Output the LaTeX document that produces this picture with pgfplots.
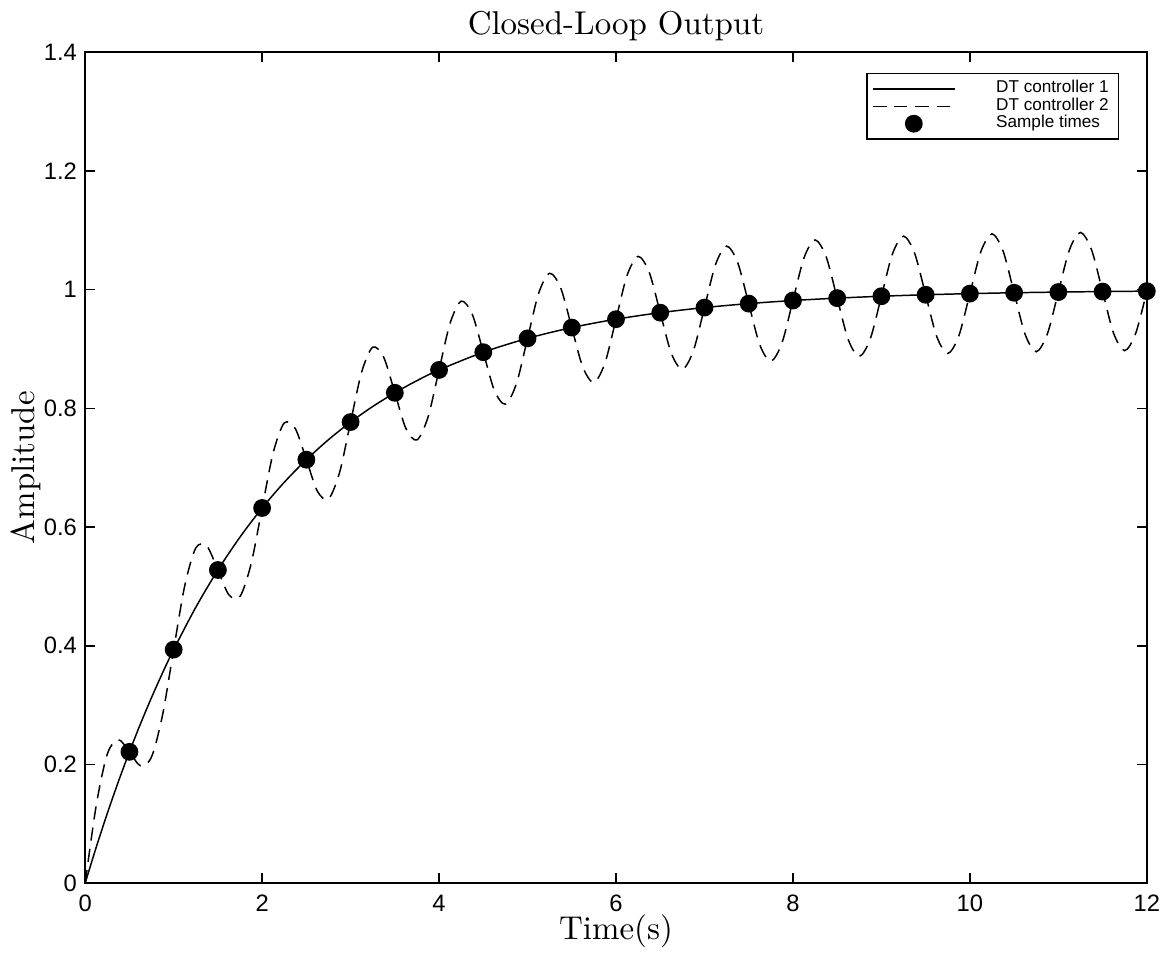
\documentclass[border=0pt]{standalone}
\usepackage{fontspec}
\usepackage{pgfplots}
\pgfplotsset{compat=1.18}
\newfontfamily\helv{Liberation Sans}

\begin{document}
\begin{tikzpicture}
\begin{axis}[
    scale only axis,
    width=322pt, height=252pt,
    xmin=0, xmax=12, ymin=0, ymax=1.4,
    xtick={0,2,...,12},
    ytick={0,0.2,...,1.4},
    yticklabels={0,0.2,0.4,0.6,0.8,1,1.2,1.4},
    tick align=inside,
    major tick length=3pt,
    tick style={black, line width=0.5pt},
    axis line style={line width=0.6pt},
    /pgf/number format/assume math mode=true,
    tick label style={font=\helv\fontsize{7.2}{8}\selectfont},
    yticklabel style={xshift=1pt},
    title={Closed-Loop Output},
    title style={font=\fontsize{10}{11}\selectfont, yshift=-6pt},
    xlabel={Time(s)},
    ylabel={Amplitude},
    label style={font=\fontsize{10}{12}\selectfont},
    xlabel style={yshift=6pt},
    ylabel style={yshift=-6pt},
    legend style={at={(0.974,0.975)}, anchor=north east,
        font=\helv\fontsize{5.2}{5.2}\selectfont,
        draw=black, line width=0.4pt, inner xsep=1.5pt, inner ysep=0.5pt,
        row sep=-3pt, nodes={inner sep=1.5pt}},
    legend cell align=left,
    legend image code/.code={\draw[mark repeat=2,mark phase=2,#1]
        plot coordinates {(0pt,0pt) (12.5pt,0pt) (25pt,0pt)};
        \path[draw=none, fill=none] (0pt,0pt) -- (36pt,0pt);},
]
% DT controller 1
\addplot[black, line width=0.45pt, smooth] coordinates {
(0,0) (0.125,0.0606) (0.25,0.1175) (0.375,0.1710) (0.5,0.2212) (0.625,0.2684)
(0.75,0.3127) (0.875,0.3544) (1,0.3935) (1.25,0.4647) (1.5,0.5276) (1.75,0.5831)
(2,0.6321) (2.25,0.6754) (2.5,0.7135) (2.75,0.7472) (3,0.7769) (3.25,0.8031)
(3.5,0.8262) (3.75,0.8467) (4,0.8647) (4.5,0.8946) (5,0.9179) (5.5,0.9361)
(6,0.9502) (6.5,0.9612) (7,0.9698) (7.5,0.9765) (8,0.9817) (8.5,0.9857)
(9,0.9889) (9.5,0.9914) (10,0.9933) (10.5,0.9948) (11,0.9959) (11.5,0.9968)
(12,0.9975)
};
% DT controller 2
\addplot[black, line width=0.45pt, dash pattern=on 4pt off 2.5pt, smooth] coordinates {
(0,0) (0.125,0.1313) (0.25,0.2175) (0.375,0.2417) (0.5,0.2212) (0.625,0.1977)
(0.75,0.2127) (0.875,0.2837) (1,0.3935) (1.125,0.5009) (1.25,0.5647) (1.375,0.5679)
(1.5,0.5276) (1.625,0.4856) (1.75,0.4831) (1.875,0.5377) (2,0.6321) (2.125,0.7251)
(2.25,0.7754) (2.375,0.7657) (2.5,0.7135) (2.625,0.6602) (2.75,0.6472) (2.875,0.6918)
(3,0.7769) (3.125,0.8611) (3.25,0.9031) (3.375,0.8857) (3.5,0.8262) (3.625,0.7661)
(3.75,0.7467) (3.875,0.7852) (4,0.8647) (4.125,0.9436) (4.25,0.9806) (4.375,0.9585)
(4.5,0.8946) (4.625,0.8303) (4.75,0.8070) (4.875,0.8419) (5,0.9179) (5.125,0.9936)
(5.25,1.0276) (5.375,1.0027) (5.5,0.9361) (5.625,0.8693) (5.75,0.8436) (5.875,0.8763)
(6,0.9502) (6.125,1.0239) (6.25,1.0561) (6.375,1.0294) (6.5,0.9612) (6.625,0.8929)
(6.75,0.8658) (6.875,0.8972) (7,0.9698) (7.125,1.0423) (7.25,1.0734) (7.375,1.0457)
(7.5,0.9765) (7.625,0.9072) (7.75,0.8793) (7.875,0.9098) (8,0.9817) (8.125,1.0535)
(8.25,1.0838) (8.375,1.0555) (8.5,0.9857) (8.625,0.9159) (8.75,0.8874) (8.875,0.9175)
(9,0.9889) (9.125,1.0603) (9.25,1.0902) (9.375,1.0615) (9.5,0.9914) (9.625,0.9212)
(9.75,0.8924) (9.875,0.9221) (10,0.9933) (10.125,1.0644) (10.25,1.0941) (10.375,1.0651)
(10.5,0.9948) (10.625,0.9244) (10.75,0.8954) (10.875,0.9250) (11,0.9959) (11.125,1.0669)
(11.25,1.0964) (11.375,1.0673) (11.5,0.9968) (11.625,0.9263) (11.75,0.8972) (11.875,0.9267)
(12,0.9975)
};
% sample times
\addplot[only marks, mark=*, mark size=2.5pt, black] coordinates {
(0.5,0.2212) (1,0.3935) (1.5,0.5276) (2,0.6321) (2.5,0.7135) (3,0.7769)
(3.5,0.8262) (4,0.8647) (4.5,0.8946) (5,0.9179) (5.5,0.9361) (6,0.9502)
(6.5,0.9612) (7,0.9698) (7.5,0.9765) (8,0.9817) (8.5,0.9857) (9,0.9889)
(9.5,0.9914) (10,0.9933) (10.5,0.9948) (11,0.9959) (11.5,0.9968) (12,0.9975)
};
\legend{DT controller 1, DT controller 2, Sample times}
\end{axis}
\end{tikzpicture}
\end{document}
